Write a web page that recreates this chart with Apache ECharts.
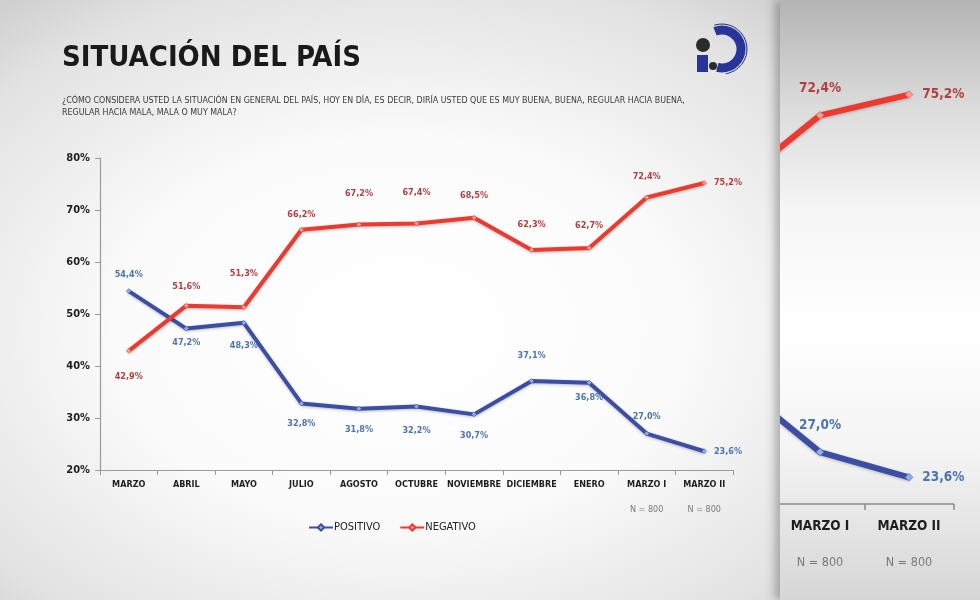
<!DOCTYPE html>
<html>
<head>
<meta charset="utf-8">
<script src="https://cdn.jsdelivr.net/npm/echarts@6/dist/echarts.min.js"></script>
<style>
  html, body { margin: 0; padding: 0; width: 980px; height: 600px; overflow: hidden; }
  body { position: relative; background: radial-gradient(ellipse 620px 420px at 400px 330px, #ffffff 0%, #fbfbfb 45%, #e2e2e2 85%, #d0d0d0 100%); }
  #main { position: absolute; left: 0; top: 0; width: 980px; height: 600px; }
  #insetClip { position: absolute; left: 780px; top: 0; width: 200px; height: 600px; overflow: hidden;
    background: linear-gradient(to bottom, #b4b4b4 0%, #dcdcdc 18%, #f6f6f6 35%, #ffffff 55%, #f4f4f4 75%, #d6d6d6 100%);
    box-shadow: -5px 0 9px rgba(0,0,0,0.28); }
  #inset { position: absolute; left: -820px; top: 0; width: 1020px; height: 600px; }
</style>
</head>
<body>
<div id="main"></div>
<div id="insetClip"><div id="inset"></div></div>
<script>
// ---- data ----
const categories = ['MARZO', 'ABRIL', 'MAYO', 'JULIO', 'AGOSTO', 'OCTUBRE', 'NOVIEMBRE', 'DICIEMBRE', 'ENERO', 'MARZO I', 'MARZO II'];
const positivo = [54.4, 47.2, 48.3, 32.8, 31.8, 32.2, 30.7, 37.1, 36.8, 27.0, 23.6];
const negativo = [42.9, 51.6, 51.3, 66.2, 67.2, 67.4, 68.5, 62.3, 62.7, 72.4, 75.2];
const sampleNotes = ['', '', '', '', '', '', '', '', '', 'N = 800', 'N = 800'];
const yMin = 20, yMax = 80, yStep = 10;
const seriesNames = ['POSITIVO', 'NEGATIVO'];
const titleText = 'SITUACIÓN DEL PAÍS';
const questionLines = [
  '¿CÓMO CONSIDERA USTED LA SITUACIÓN EN GENERAL DEL PAÍS, HOY EN DÍA, ES DECIR, DIRÍA USTED QUE ES MUY BUENA, BUENA, REGULAR HACIA BUENA,',
  'REGULAR HACIA MALA, MALA O MUY MALA?'
];

// ---- label placement (style only) ----
const posLabelPos  = ['top','bottom','bottom','bottom','bottom','bottom','bottom','top','bottom','top','right'];
const posLabelDist = [9, 7, 16, 13, 14, 17, 14, 18, 8, 10, 7];
const posLabelOffX = [0, 0, 0, 0, 0, 0, 0, 0, 0, 19, 0];
const negLabelPos  = ['bottom','top','top','top','top','top','top','top','top','top','right'];
const negLabelDist = [18, 12, 26, 8, 24, 24, 15, 18, 15, 14, 7];

const FONT = "'DejaVu Sans Condensed', 'Liberation Sans Narrow', 'Open Sans', sans-serif";
const BLUE = '#3b4ea3', BLUE_LBL = '#4c74b3', BLUE_MK = '#8fb0e0';
const RED = '#ec3a2f', RED_LBL = '#b2403d', RED_MK = '#f4a09a';

const fmtPct = v => v.toFixed(1).replace('.', ',') + '%';

function buildData(values, pos, dist, offX, color, fs) {
  return values.map((v, i) => ({
    value: v,
    label: { position: pos[i], distance: dist[i], offset: [offX ? offX[i] : 0, 0], color: color, fontSize: fs }
  }));
}

function lineSeries(name, values, color, mk, lblColor, pos, dist, offX, width, symSize, fs) {
  return {
    name: name, type: 'line', data: buildData(values, pos, dist, offX, lblColor, fs),
    symbol: 'diamond', symbolSize: symSize, showAllSymbol: true,
    lineStyle: { color: color, width: width, shadowColor: 'rgba(0,0,0,0.25)', shadowBlur: 3, shadowOffsetY: 1 },
    itemStyle: { color: mk, borderColor: color, borderWidth: 0.5 },
    label: { show: true, formatter: p => fmtPct(p.value), fontFamily: FONT, fontWeight: 'bold' },
    labelLayout: { hideOverlap: false },
    emphasis: { disabled: true },
    animation: false, z: 3
  };
}

// ---- main chart ----
const main = echarts.init(document.getElementById('main'));
main.setOption({
  backgroundColor: 'transparent',
  animation: false,
  graphic: [
    { type: 'text', left: 62, top: 44, style: { text: titleText, font: "bold 29px " + FONT, fill: '#1a1a1a' } },
    { type: 'text', left: 62, top: 95, style: { text: questionLines.join('\n'), font: "8.8px " + FONT, fill: '#3a3a3a', lineHeight: 12 } },
    // logo
    { type: 'circle', shape: { cx: 703, cy: 45, r: 7 }, style: { fill: '#2b2b2b' } },
    { type: 'rect', shape: { x: 697, y: 55, width: 11, height: 17 }, style: { fill: '#27349a' } },
    { type: 'circle', shape: { cx: 713, cy: 66, r: 4 }, style: { fill: '#2b2b2b' } },
    { type: 'arc', shape: { cx: 722, cy: 49, r: 19, startAngle: -Math.PI * 0.62, endAngle: Math.PI * 0.58 }, style: { stroke: '#27349a', lineWidth: 9, fill: null } },
    { type: 'arc', shape: { cx: 722, cy: 49, r: 25, startAngle: -Math.PI * 0.6, endAngle: Math.PI * 0.45 }, style: { stroke: '#1f2c80', lineWidth: 1, fill: null } }
  ],
  legend: {
    data: seriesNames, left: 303, top: 517, itemWidth: 24, itemHeight: 8, itemGap: 19,
    textStyle: { fontFamily: FONT, fontSize: 11, color: '#222', padding: [0, 0, 0, -4] }
  },
  grid: { left: 100, right: 247, top: 158, height: 312 },
  xAxis: {
    type: 'category', data: categories, boundaryGap: true,
    axisLine: { lineStyle: { color: '#9a9a9a', width: 1.2 } },
    axisTick: { show: true, length: 5, lineStyle: { color: '#9a9a9a' } },
    axisLabel: {
      interval: 0, margin: 8,
      formatter: (v, i) => sampleNotes[i] ? '{a|' + v + '}\n{n|' + sampleNotes[i] + '}' : '{a|' + v + '}',
      rich: {
        a: { fontFamily: FONT, fontWeight: 'bold', fontSize: 9, color: '#1e1e1e', lineHeight: 14 },
        n: { fontFamily: FONT, fontSize: 9, color: '#7a7a7a', lineHeight: 36 }
      }
    }
  },
  yAxis: {
    type: 'value', min: yMin, max: yMax, interval: yStep,
    axisLine: { show: true, lineStyle: { color: '#9a9a9a', width: 1.2 } },
    axisTick: { show: true, length: 5, lineStyle: { color: '#9a9a9a' } },
    splitLine: { show: false },
    axisLabel: { formatter: v => v + '%', fontFamily: FONT, fontWeight: 'bold', fontSize: 11, color: '#1e1e1e', margin: 10 }
  },
  series: [
    lineSeries(seriesNames[0], positivo, BLUE, BLUE_MK, BLUE_LBL, posLabelPos, posLabelDist, posLabelOffX, 4, 5, 9),
    lineSeries(seriesNames[1], negativo, RED, RED_MK, RED_LBL, negLabelPos, negLabelDist, null, 4, 5, 9)
  ]
});

// ---- magnified inset (clipped by its container) ----
const insetPosDist = [9, 7, 16, 13, 14, 17, 14, 18, 8, 15, 9];
const insetPosOffX = [0, 0, 0, 0, 0, 0, 0, 0, 0, 22, 0];
const insetNegDist = [18, 12, 26, 8, 24, 24, 15, 18, 15, 16, 9];
const inset = echarts.init(document.getElementById('inset'));
inset.setOption({
  backgroundColor: 'transparent',
  animation: false,
  grid: { left: 14.5, width: 979, top: 59, height: 445 },
  xAxis: {
    type: 'category', data: categories, boundaryGap: true,
    axisLine: { lineStyle: { color: '#8a8a8a', width: 1.5 } },
    axisTick: { show: true, length: 6, lineStyle: { color: '#8a8a8a', width: 1.5 } },
    axisLabel: {
      interval: 0, margin: 12,
      formatter: (v, i) => sampleNotes[i] ? '{a|' + v + '}\n{n|' + sampleNotes[i] + '}' : '{a|' + v + '}',
      rich: {
        a: { fontFamily: FONT, fontWeight: 'bold', fontSize: 13.5, color: '#1e1e1e', lineHeight: 20 },
        n: { fontFamily: FONT, fontSize: 12.5, color: '#7a7a7a', lineHeight: 54 }
      }
    }
  },
  yAxis: { type: 'value', min: yMin, max: yMax, interval: yStep, show: false, splitLine: { show: false } },
  series: [
    lineSeries(seriesNames[0], positivo, BLUE, BLUE_MK, BLUE_LBL, posLabelPos, insetPosDist, insetPosOffX, 6, 8, 13.5),
    lineSeries(seriesNames[1], negativo, RED, RED_MK, RED_LBL, negLabelPos, insetNegDist, null, 6, 8, 13.5)
  ]
});
</script>
</body>
</html>
